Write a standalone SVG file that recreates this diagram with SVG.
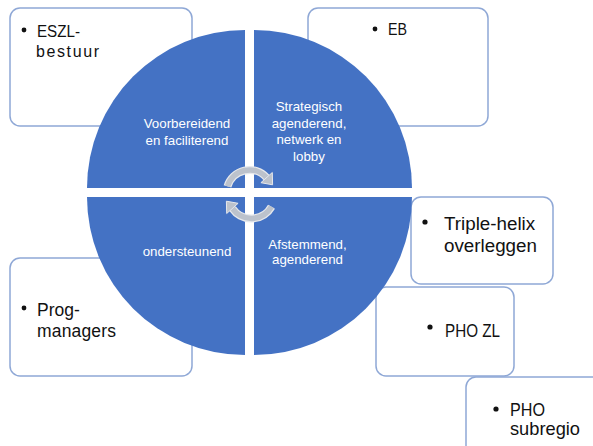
<svg xmlns="http://www.w3.org/2000/svg" width="593" height="446" viewBox="0 0 593 446">
<style>
.box{fill:#fff;stroke:#8FA8D6;stroke-width:1.5}
.bt{font-family:"Liberation Sans",Arial,sans-serif;fill:#111}
.q{fill:#4472C4}
.ct{font-family:"Liberation Sans",Arial,sans-serif;font-size:13.3px;fill:#fff;text-anchor:middle}
.arcO{fill:none;stroke:#E6E8EC;stroke-width:8}
.arcI{fill:none;stroke:#BCC2CC;stroke-width:5.5}
.head{fill:#BCC2CC;stroke:#E6E8EC;stroke-width:1}
</style>
<rect width="593" height="446" fill="#fff"/>
<g id="eszl">
<rect class="box" x="10" y="8" width="182" height="118" rx="10"/>
<circle cx="24" cy="30" r="2.4" fill="#111"/>
<text class="bt" font-size="16" x="37" y="37" textLength="43" lengthAdjust="spacingAndGlyphs">ESZL-</text>
<text class="bt" font-size="16" x="36" y="57" textLength="63" lengthAdjust="spacing">bestuur</text>
</g>
<g id="eb">
<rect class="box" x="308" y="8" width="180" height="118" rx="10"/>
<circle cx="375" cy="29" r="2.4" fill="#111"/>
<text class="bt" font-size="16" x="388" y="35" textLength="19" lengthAdjust="spacingAndGlyphs">EB</text>
</g>
<g id="triple">
<rect class="box" x="411" y="197" width="142" height="87" rx="10"/>
<circle cx="425" cy="222" r="2.6" fill="#111"/>
<text class="bt" font-size="18.8" x="444" y="230">Triple-helix</text>
<text class="bt" font-size="18.8" x="444" y="252">overleggen</text>
</g>
<g id="phozl">
<rect class="box" x="376" y="287" width="138" height="89" rx="10"/>
<circle cx="430" cy="327" r="2.6" fill="#111"/>
<text class="bt" font-size="18.5" x="445" y="337" textLength="55" lengthAdjust="spacingAndGlyphs">PHO ZL</text>
</g>
<g id="phosub">
<rect class="box" x="466" y="377" width="140" height="80" rx="10"/>
<circle cx="496" cy="409" r="2.6" fill="#111"/>
<text class="bt" font-size="18.5" x="510" y="416" textLength="35" lengthAdjust="spacingAndGlyphs">PHO</text>
<text class="bt" font-size="18.5" x="510" y="435" textLength="70" lengthAdjust="spacingAndGlyphs">subregio</text>
</g>
<g id="prog">
<rect class="box" x="10" y="258" width="182" height="118" rx="10"/>
<circle cx="24" cy="308" r="2.4" fill="#111"/>
<text class="bt" font-size="17.5" x="37" y="316">Prog-</text>
<text class="bt" font-size="17.5" x="37" y="337" textLength="79" lengthAdjust="spacing">managers</text>
</g>
<g id="q-tl">
<path class="q" d="M245,188 L87,188 A158,158 0 0 1 245,30 Z"/>
<text class="ct" x="187" y="128">Voorbereidend</text>
<text class="ct" x="187" y="145">en faciliterend</text>
</g>
<g id="q-tr">
<path class="q" d="M254,188 L254,30 A158,158 0 0 1 412,188 Z"/>
<text class="ct" x="309" y="111">Strategisch</text>
<text class="ct" x="309" y="127.5">agenderend,</text>
<text class="ct" x="309" y="144">netwerk en</text>
<text class="ct" x="309" y="160.5">lobby</text>
</g>
<g id="q-br">
<path class="q" d="M254,197 L412,197 A158,158 0 0 1 254,355 Z"/>
<text class="ct" x="307.5" y="248.5">Afstemmend,</text>
<text class="ct" x="307.5" y="263.5">agenderend</text>
</g>
<g id="q-bl">
<path class="q" d="M245,197 L245,355 A158,158 0 0 1 87,197 Z"/>
<text class="ct" x="187" y="256">ondersteunend</text>
</g>
<g id="connectors">
<path class="arcO" d="M227.5,186.3 A23,23 0 0 1 266.6,177.6"/>
<path class="arcI" d="M227.5,186.3 A23,23 0 0 1 266.6,177.6"/>
<polygon class="head" points="272.3,172.5 260.9,182.7 272.6,184.8"/>
<path class="arcO" d="M271.5,206.7 A23,23 0 0 1 232.4,208.4"/>
<path class="arcI" d="M271.5,206.7 A23,23 0 0 1 232.4,208.4"/>
<polygon class="head" points="226.7,213.5 238.1,203.3 226.4,201.2"/>
</g>
</svg>
